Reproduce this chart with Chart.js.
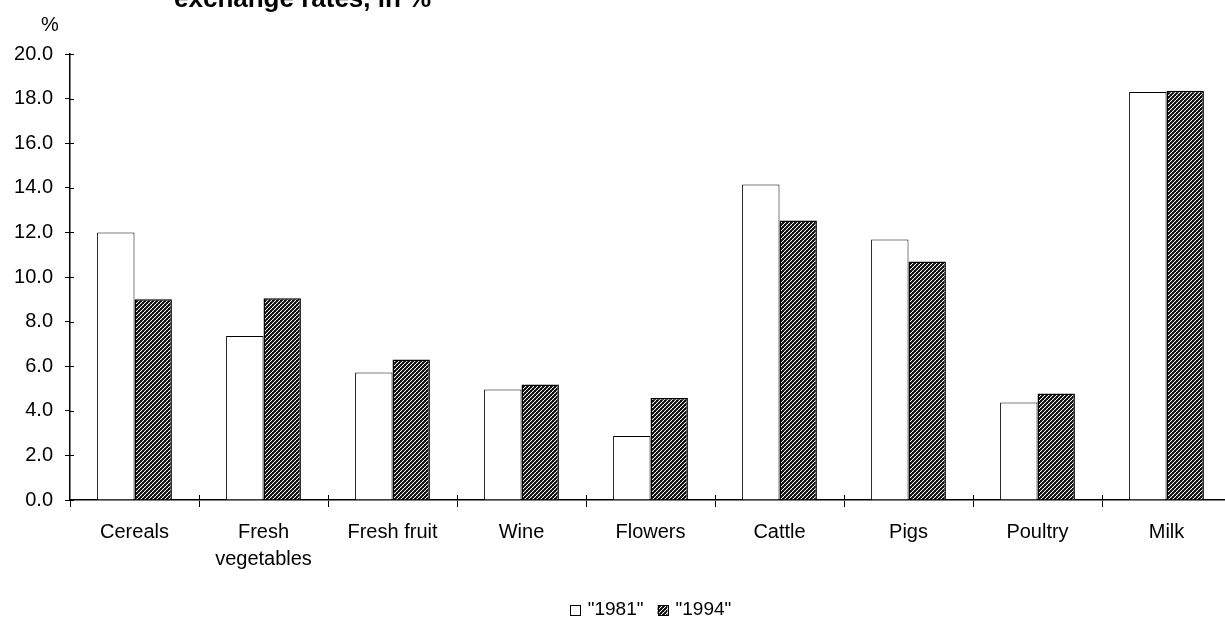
<!DOCTYPE html>
<html>
<head>
<meta charset="utf-8">
<script src="https://cdn.jsdelivr.net/npm/chart.js@4.4.1/dist/chart.umd.min.js"></script>
<style>
  html, body { margin: 0; padding: 0; background: #fff; overflow: hidden; }
  #wrap { position: relative; width: 1300px; height: 619px; }
</style>
</head>
<body>
<div id="wrap"><canvas id="chart"></canvas></div>
<script>
// ================= DATA =================
const categories = ["Cereals", ["Fresh", "vegetables"], "Fresh fruit", "Wine", "Flowers", "Cattle", "Pigs", "Poultry", "Milk"];
const values1981 = [12.0, 7.35, 5.72, 4.95, 2.87, 14.15, 11.68, 4.37, 18.3];
const values1994 = [9.0, 9.05, 6.3, 5.18, 4.57, 12.53, 10.7, 4.78, 18.35];
const yTicks = [0, 2, 4, 6, 8, 10, 12, 14, 16, 18, 20];
const seriesNames = ['"1981"', '"1994"'];
const titleText = "exchange rates, in %";
const unitText = "%";

const FONT = "'Liberation Sans', Arial, sans-serif";

// dither pattern for the 1994 bars
function makePattern() {
  const c = document.createElement("canvas");
  c.width = 4; c.height = 4;
  const x = c.getContext("2d");
  x.fillStyle = "#fff";
  x.fillRect(0, 0, 4, 4);
  x.fillStyle = "#111";
  for (let i = 0; i < 4; i++) {
    for (let j = 0; j < 4; j++) {
      if (((i >> 1) + (j >> 1)) % 2 === 0) x.fillRect(i, j, 1, 1);
    }
  }
  x.fillStyle = "#333";
  x.fillRect(1, 3, 1, 1);
  x.fillRect(3, 1, 1, 1);
  x.fillRect(2, 0, 1, 1);
  x.fillRect(0, 2, 1, 1);
  return x.createPattern(c, "repeat");
}
const ctx = document.getElementById("chart").getContext("2d");
const pattern = makePattern();

// extra marks: inward ticks, unit label, cut-off title, legend under the plot
const extras = {
  id: "extras",
  afterDraw(chart) {
    const c = chart.ctx;
    const xs = chart.scales.x, ys = chart.scales.y;
    const area = chart.chartArea;
    c.save();
    c.strokeStyle = "#000";
    c.lineWidth = 1;
    c.beginPath();
    yTicks.forEach(v => {
      const py = Math.round(ys.getPixelForValue(v)) + 0.5;
      c.moveTo(area.left, py);
      c.lineTo(area.left + 4, py);
    });
    for (let i = 1; i < categories.length; i++) {
      const px = Math.round((xs.getPixelForValue(i - 1) + xs.getPixelForValue(i)) / 2) + 0.5;
      c.moveTo(px, area.bottom);
      c.lineTo(px, area.bottom - 5);
    }
    c.stroke();

    c.fillStyle = "#000";
    c.font = "20px " + FONT;
    c.textAlign = "center";
    c.textBaseline = "middle";
    c.fillText(unitText, 50, area.top - 29);

    c.font = "bold 26px " + FONT;
    c.textAlign = "left";
    c.textBaseline = "alphabetic";
    c.fillText(titleText, 174, 7);

    // legend, centred on the plot area
    c.font = "19px " + FONT;
    c.textBaseline = "middle";
    const box = 10, gap = 8, spacing = 14;
    const ds = chart.data.datasets;
    let total = 0;
    ds.forEach((d, i) => {
      total += box + gap + c.measureText(d.label).width;
      if (i < ds.length - 1) total += spacing;
    });
    let lx = (area.left + area.right) / 2 - total / 2;
    const ly = 610;
    ds.forEach(d => {
      c.fillStyle = d.backgroundColor;
      c.fillRect(lx, ly - box / 2, box, box);
      c.strokeStyle = "#000";
      c.lineWidth = 1;
      c.strokeRect(Math.round(lx) + 0.5, Math.round(ly - box / 2) + 0.5, box, box);
      lx += box + gap;
      c.fillStyle = "#000";
      c.fillText(d.label, lx, ly);
      lx += c.measureText(d.label).width + spacing;
    });
    c.restore();
  }
};

// ================= CHART =================
new Chart(ctx, {
  type: "bar",
  data: {
    labels: categories,
    datasets: [
      {
        label: seriesNames[0],
        data: values1981,
        backgroundColor: "#fff",
        borderColor: "#000",
        borderWidth: 1,
        categoryPercentage: 0.58,
        barPercentage: 1.0
      },
      {
        label: seriesNames[1],
        data: values1994,
        backgroundColor: pattern,
        borderColor: "#000",
        borderWidth: 1.5,
        categoryPercentage: 0.58,
        barPercentage: 1.0
      }
    ]
  },
  options: {
    responsive: true,
    maintainAspectRatio: false,
    animation: false,
    layout: { padding: { top: 54, right: 69, bottom: 0, left: 0 } },
    plugins: {
      tooltip: { enabled: false },
      legend: { display: false }
    },
    scales: {
      x: {
        afterFit(scale) { scale.height = 119; },
        grid: { display: true, drawOnChartArea: false, color: "#000", tickLength: 7, offset: true },
        border: { color: "#000", width: 1.5 },
        ticks: { color: "#000", font: { family: FONT, size: 20, lineHeight: 1.35 }, padding: 12, maxRotation: 0 }
      },
      y: {
        min: 0,
        max: 20,
        afterFit(scale) { scale.width = 70; },
        afterBuildTicks(scale) { scale.ticks = yTicks.map(v => ({ value: v })); },
        grid: { display: true, drawOnChartArea: false, color: "#000", tickLength: 5 },
        border: { color: "#000", width: 1.5 },
        ticks: {
          color: "#000",
          font: { family: FONT, size: 20 },
          padding: 12,
          callback: v => Number(v).toFixed(1)
        }
      }
    }
  },
  plugins: [extras]
});
</script>
</body>
</html>
